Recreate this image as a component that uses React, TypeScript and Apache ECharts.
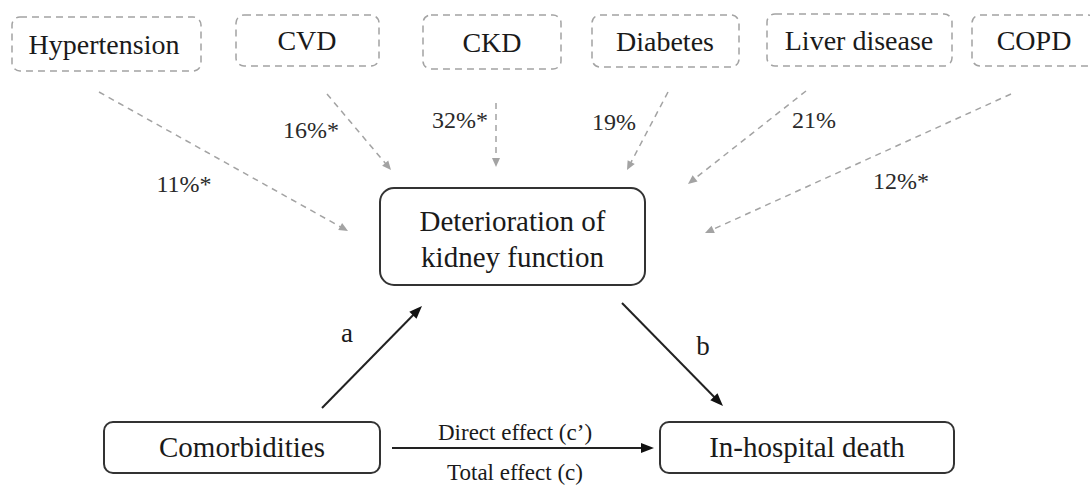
import React, { useEffect, useRef } from "react";
import * as echarts from "echarts";

// ---- data ----
const comorbidities = ["Hypertension", "CVD", "CKD", "Diabetes", "Liver disease", "COPD"];
const proportionValues = [11, 16, 32, 19, 21, 12];
const significant = [true, true, true, false, false, true];
const mediatorLabel = "Deterioration of\nkidney function";
const exposureLabel = "Comorbidities";
const outcomeLabel = "In-hospital death";
const pathLabels = ["a", "b"];
const effectLabels = ["Direct effect (c\u2019)", "Total effect (c)"];

// ---- layout (positions only) ----
const topBoxes = [
  [12, 17, 189, 54],
  [236, 15, 143, 51],
  [423, 15, 138, 54],
  [592, 15, 147, 52],
  [767, 14, 185, 52],
  [972, 15, 124, 51],
];
const topTextX = [104, 307, 492, 665, 859, 1034];
const dashedArrows = [
  [99, 92, 348, 231],
  [327, 94, 391, 170],
  [496, 103, 496, 167],
  [668, 92, 627, 170],
  [806, 91, 688, 184],
  [1011, 94, 705, 233],
];
const pctPos = [
  [184, 184],
  [311, 130],
  [460, 120],
  [614, 122],
  [814, 120],
  [901, 181],
];
const midBox = [380, 188, 265, 97];
const leftBox = [104, 422, 276, 51];
const rightBox = [660, 422, 294, 51];
const solidArrows = [
  [322, 408, 422, 306],
  [622, 303, 723, 406],
  [392, 448, 654, 448],
];
const pathLabelPos = [
  [347, 333],
  [703, 346],
];
const effectPos = [
  [515, 432],
  [515, 472],
];

const FONT = '"Liberation Serif", "Times New Roman", serif';

function arrowHead(x1: number, y1: number, x2: number, y2: number, len: number, half: number) {
  const dx = x2 - x1;
  const dy = y2 - y1;
  const d = Math.sqrt(dx * dx + dy * dy);
  const ux = dx / d;
  const uy = dy / d;
  const bx = x2 - ux * len;
  const by = y2 - uy * len;
  return [
    [x2, y2],
    [bx - uy * half, by + ux * half],
    [bx + uy * half, by - ux * half],
  ];
}

function buildGraphic() {
  const els: any[] = [];
  const grey = "#a3a3a3";
  const dark = "#1a1a1a";

  comorbidities.forEach((name, i) => {
    const [x, y, w, h] = topBoxes[i];
    els.push({
      type: "rect",
      shape: { x, y, width: w, height: h, r: 8 },
      style: { fill: "none", stroke: grey, lineWidth: 1.5, lineDash: [7, 5] },
    });
    els.push({
      type: "text",
      x: topTextX[i],
      y: y + h / 2,
      style: { text: name, font: `28px ${FONT}`, fill: dark, align: "center", verticalAlign: "middle" },
    });
    const [ax1, ay1, ax2, ay2] = dashedArrows[i];
    const head = arrowHead(ax1, ay1, ax2, ay2, 9, 4);
    const dx = ax2 - ax1, dy = ay2 - ay1;
    const d = Math.sqrt(dx * dx + dy * dy);
    els.push({
      type: "line",
      shape: { x1: ax1, y1: ay1, x2: ax2 - (dx / d) * 8, y2: ay2 - (dy / d) * 8 },
      style: { stroke: grey, lineWidth: 1.5, lineDash: [6, 5] },
    });
    els.push({ type: "polygon", shape: { points: head }, style: { fill: grey } });
    els.push({
      type: "text",
      x: pctPos[i][0],
      y: pctPos[i][1],
      style: {
        text: `${proportionValues[i]}%${significant[i] ? "*" : ""}`,
        font: `24px ${FONT}`,
        fill: "#2a2a2a",
        align: "center",
        verticalAlign: "middle",
      },
    });
  });

  const solidBox = (b: number[], r: number, label: string, dy: number) => {
    const [x, y, w, h] = b;
    els.push({
      type: "rect",
      shape: { x, y, width: w, height: h, r },
      style: { fill: "#fff", stroke: "#333", lineWidth: 2 },
    });
    els.push({
      type: "text",
      x: x + w / 2,
      y: y + h / 2 + dy,
      style: {
        text: label,
        font: `29px ${FONT}`,
        lineHeight: 36,
        fill: dark,
        align: "center",
        verticalAlign: "middle",
      },
    });
  };
  solidBox(midBox, 14, mediatorLabel, 2);
  solidBox(leftBox, 9, exposureLabel, -1);
  solidBox(rightBox, 9, outcomeLabel, -1);

  solidArrows.forEach(([x1, y1, x2, y2]) => {
    const dx = x2 - x1, dy = y2 - y1;
    const d = Math.sqrt(dx * dx + dy * dy);
    els.push({
      type: "line",
      shape: { x1, y1, x2: x2 - (dx / d) * 8, y2: y2 - (dy / d) * 8 },
      style: { stroke: "#222", lineWidth: 2 },
    });
    els.push({ type: "polygon", shape: { points: arrowHead(x1, y1, x2, y2, 13, 5) }, style: { fill: "#111" } });
  });

  pathLabels.forEach((t, i) => {
    els.push({
      type: "text",
      x: pathLabelPos[i][0],
      y: pathLabelPos[i][1],
      style: { text: t, font: `27px ${FONT}`, fill: dark, align: "center", verticalAlign: "middle" },
    });
  });
  effectLabels.forEach((t, i) => {
    els.push({
      type: "text",
      x: effectPos[i][0],
      y: effectPos[i][1],
      style: { text: t, font: `23px ${FONT}`, fill: dark, align: "center", verticalAlign: "middle" },
    });
  });
  return els;
}

export default function App() {
  const ref = useRef<HTMLDivElement>(null);
  useEffect(() => {
    document.body.style.margin = "0";
    const chart = echarts.init(ref.current!, undefined, { renderer: "svg" });
    chart.setOption({
      animation: false,
      backgroundColor: "#fff",
      graphic: { elements: buildGraphic() },
    });
    return () => chart.dispose();
  }, []);
  return <div ref={ref} style={{ width: 1090, height: 487, position: "absolute", left: 0, top: 0 }} />;
}
